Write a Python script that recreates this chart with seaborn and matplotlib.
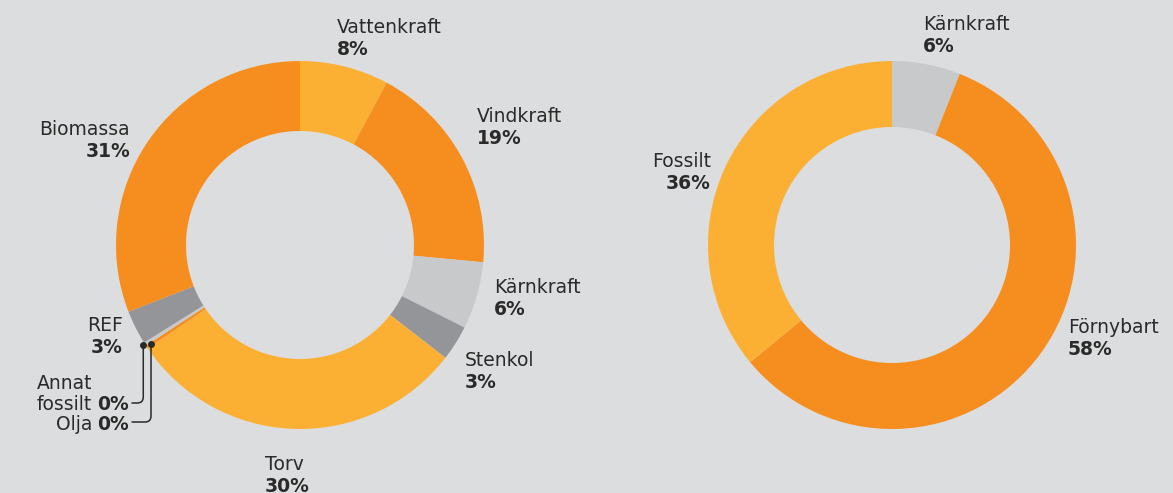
import numpy as np
import seaborn as sns
import matplotlib.pyplot as plt

# left donut: electricity production by source
left_labels = ['Vattenkraft', 'Vindkraft', 'Kärnkraft', 'Stenkol', 'Torv',
               'Olja', 'Annat fossilt', 'REF', 'Biomassa']
left_values = [7.8, 18.7, 5.9, 3.1, 30.0, 0.3, 0.3, 3.0, 30.9]
left_colors = ['#fbb034', '#f68e1f', '#c8c9ca', '#949598', '#fbb034',
               '#f68e1f', '#c8c9ca', '#949598', '#f68e1f']

# right donut: grouped
right_labels = ['Kärnkraft', 'Förnybart', 'Fossilt']
right_values = [6, 58, 36]
right_colors = ['#c8c9ca', '#f68e1f', '#fbb034']

BG = '#dcddde'
TXT = '#2a2a2a'
W, H = 1173, 493
FS = 13.5

sns.set_theme(style='white', rc={'figure.facecolor': BG, 'axes.facecolor': BG})
plt.rcParams['font.family'] = ['DejaVu Sans']

fig = plt.figure(figsize=(W / 100, H / 100), dpi=100)
ax = fig.add_axes([0, 0, 1, 1])


def Y(y):
    # screen y (down) -> data y (up)
    return H - y


def donut(values, colors, cx, cy, r_out, r_in):
    ax.pie(values, colors=colors, startangle=90, counterclock=False,
           center=(cx, Y(cy)), radius=r_out,
           wedgeprops=dict(width=r_out - r_in, linewidth=0))


def label(name, pct, x, y, ha='left'):
    ax.text(x, Y(y), name, ha=ha, va='baseline', fontsize=FS, color=TXT)
    ax.text(x, Y(y + 22), f'{pct}%', ha=ha, va='baseline', fontsize=FS,
            color=TXT, fontweight='bold')


donut(left_values, left_colors, 300, 245, 184, 114)
donut(right_values, right_colors, 892, 245, 184, 118)

# pie() resets the limits, so set them afterwards
ax.set_xlim(0, W)
ax.set_ylim(0, H)
ax.set_aspect('equal')
ax.axis('off')

lp = [int(round(v)) for v in left_values]
rp = [int(round(v)) for v in right_values]

label('Vattenkraft', lp[0], 337, 33)
label('Vindkraft', lp[1], 477, 122)
label('Kärnkraft', lp[2], 494, 293)
label('Stenkol', lp[3], 465, 366)
label('Torv', lp[4], 265, 470)
label('REF', lp[7], 123, 331, ha='right')
label('Biomassa', lp[8], 130, 135, ha='right')

# small slices with leader lines
ax.text(92, Y(389), 'Annat', ha='right', va='baseline', fontsize=FS, color=TXT)
ax.text(92, Y(410), 'fossilt', ha='right', va='baseline', fontsize=FS, color=TXT)
ax.text(97, Y(410), f'{lp[6]}%', ha='left', va='baseline', fontsize=FS,
        color=TXT, fontweight='bold')
ax.text(92, Y(430), 'Olja', ha='right', va='baseline', fontsize=FS, color=TXT)
ax.text(97, Y(430), f'{lp[5]}%', ha='left', va='baseline', fontsize=FS,
        color=TXT, fontweight='bold')

cum = np.cumsum([0] + left_values) / sum(left_values)
for idx, ytxt, rr in [(6, 403, 186), (5, 422, 179)]:
    theta = 2 * np.pi * (cum[idx] + cum[idx + 1]) / 2
    dx = 300 + rr * np.sin(theta)
    dy = Y(245) + rr * np.cos(theta)
    ax.plot(dx, dy, 'o', color=TXT, ms=4)
    ax.annotate('', xy=(dx, dy), xytext=(132, Y(ytxt)),
                arrowprops=dict(arrowstyle='-', color=TXT, lw=1.1,
                                shrinkA=0, shrinkB=0,
                                connectionstyle='angle,angleA=0,angleB=90,rad=6'))

label('Kärnkraft', rp[0], 923, 30)
label('Fossilt', rp[2], 711, 167, ha='right')
label('Förnybart', rp[1], 1068, 333)

fig.savefig('out.png', dpi=100, facecolor=BG)
